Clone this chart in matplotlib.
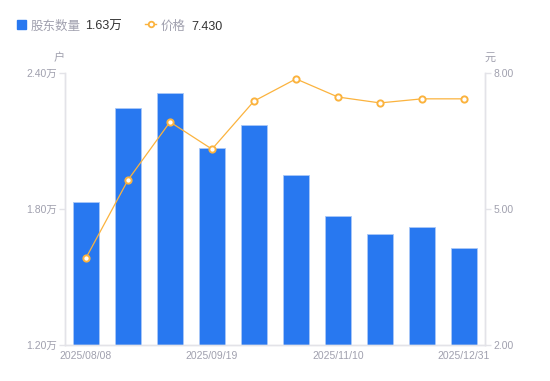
import matplotlib
matplotlib.use("Agg")
import matplotlib.pyplot as plt
from matplotlib.lines import Line2D

plt.rcParams['font.family'] = ['Liberation Sans', 'Noto Sans CJK SC', 'DejaVu Sans']

dates = ["2025/08/08", "", "", "2025/09/19", "", "", "2025/11/10", "", "", "2025/12/31"]
holders = [1.831, 2.246, 2.312, 2.069, 2.171, 1.950, 1.769, 1.690, 1.721, 1.628]
price = [3.92, 5.64, 6.92, 6.32, 7.38, 7.87, 7.47, 7.34, 7.43, 7.43]
left_ticks = [1.20, 1.80, 2.40]
right_ticks = [2.00, 5.00, 8.00]

BLUE = "#2878F0"
ORANGE = "#FBB33E"
GRAY = "#A0A0AE"
AX = "#E3E3E8"

fig = plt.figure(figsize=(5.5, 3.81), dpi=100)
ax = fig.add_axes([65/550, 1-345/381, 420/550, 272/381])
x = list(range(len(holders)))
ax.bar(x, holders, width=0.6, color=BLUE, edgecolor="#A9C8F8", linewidth=0.6, zorder=2)
ax.set_xlim(-0.5, len(holders)-0.5)
ax.set_ylim(left_ticks[0], left_ticks[-1])
ax.set_yticks(left_ticks)
ax.set_yticklabels([f"{v:.2f}万" for v in left_ticks])
ax.set_xticks([i for i, d in enumerate(dates) if d])
ax.set_xticklabels([d for d in dates if d])

ax2 = ax.twinx()
ax2.plot(x, price, color=ORANGE, linewidth=0.9, marker='o', markersize=4.5,
         markerfacecolor='white', markeredgecolor=ORANGE, markeredgewidth=1.4, zorder=3)
ax2.set_ylim(right_ticks[0], right_ticks[-1])
ax2.set_yticks(right_ticks)
ax2.set_yticklabels([f"{v:.2f}" for v in right_ticks])

for a in (ax, ax2):
    for s in a.spines.values():
        s.set_color(AX)
        s.set_linewidth(1)
    a.spines['top'].set_visible(False)
    a.tick_params(axis='y', colors=AX, labelcolor=GRAY, labelsize=7.5, length=4, width=1, pad=2)
ax.tick_params(axis='x', length=0, labelcolor=GRAY, labelsize=7.5, pad=4)

fig.text(59/550, 1-58/381, "户", color=GRAY, fontsize=8, ha='center', va='center')
fig.text(490/550, 1-58/381, "元", color=GRAY, fontsize=8, ha='center', va='center')

# legend
ty = 1 - 27/381
fig.patches.append(plt.Rectangle((17/550, 1-29/381), 9/550, 9/381, color=BLUE,
                                 transform=fig.transFigure, figure=fig))
fig.text(31/550, ty, "股东数量", color=GRAY, fontsize=9, va='center')
fig.text(85/550, ty, f"{holders[-1]:.2f}万", color="#333333", fontsize=9, va='center')
fig.add_artist(Line2D([145/550, 156/550], [1-24/381, 1-24/381], color=ORANGE, linewidth=1,
                      transform=fig.transFigure))
fig.add_artist(Line2D([150.5/550], [1-24/381], color=ORANGE, marker='o', markersize=4,
                      markerfacecolor='white', markeredgewidth=1.3, transform=fig.transFigure))
fig.text(161/550, ty, "价格", color=GRAY, fontsize=9, va='center')
fig.text(191/550, ty, f"{price[-1]:.3f}", color="#333333", fontsize=9, va='center')

fig.savefig("out.png", dpi=100)
